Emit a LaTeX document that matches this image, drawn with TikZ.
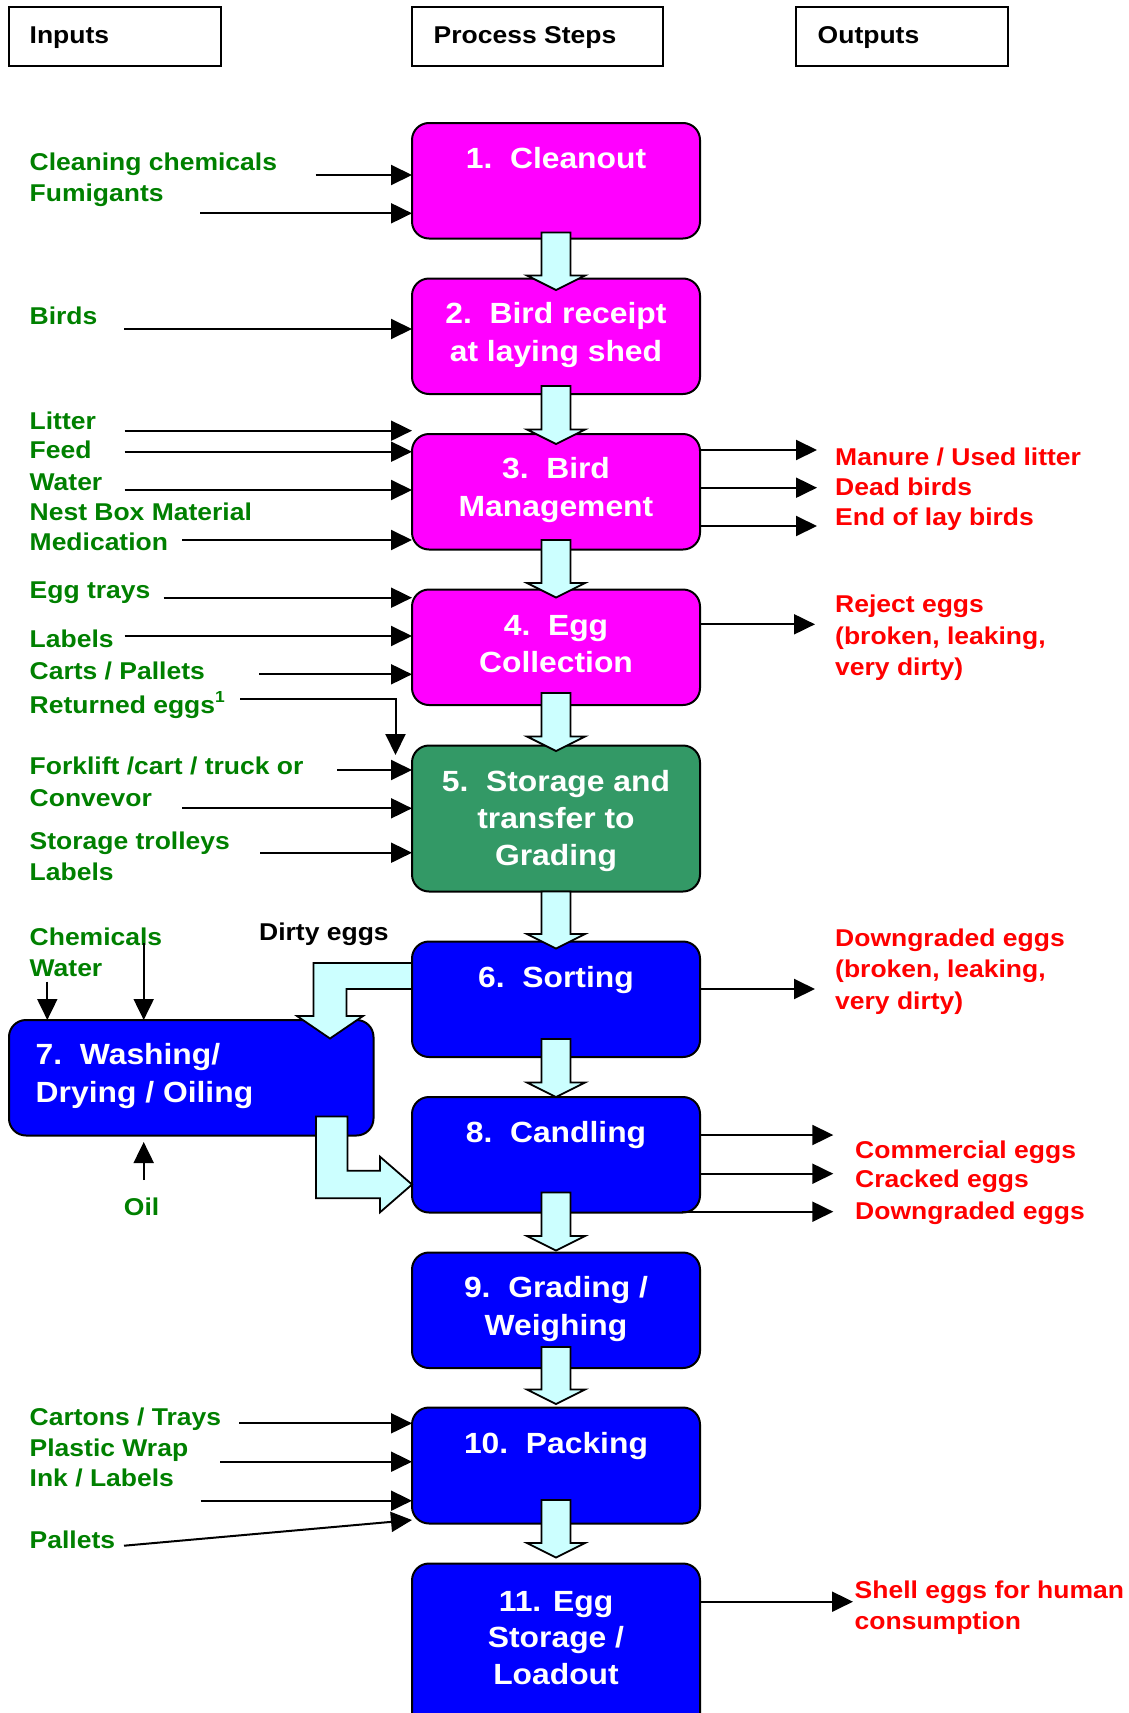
\documentclass[tikz,border=0pt]{standalone}
\usepackage{fontspec}
\setmainfont{Liberation Sans}[FakeStretch=1.09]
\usetikzlibrary{arrows.meta,calc}

\definecolor{stepmag}{HTML}{FF00FF}
\definecolor{stepgreen}{HTML}{339966}
\definecolor{stepblue}{HTML}{0000FF}
\definecolor{flowcyan}{HTML}{CCFFFF}
\definecolor{ingreen}{HTML}{008000}
\definecolor{outred}{HTML}{FF0000}

% thin input arrow: name of free end, free end, target step
\newcommand\feedin[3]{\draw[feed] (#2) coordinate (#1) -- (#1 -| #3.west);}
% thin output arrow: name of free end, free end, source step
\newcommand\feedout[3]{\coordinate (#1) at (#2); \draw[feed] (#1 -| #3.east) -- (#1);}
% vertical block arrow between two steps: shaft top, tip
\newcommand\flowdown[2]{\draw[flow] let \p1=(#1), \p2=(#2) in
  (\x1-14.5pt,\y1) -- (\x1+14.5pt,\y1) -- (\x1+14.5pt,\y2+14.5pt) -- (\x1+29pt,\y2+14.5pt)
  -- (\x1,\y2) -- (\x1-29pt,\y2+14.5pt) -- (\x1-14.5pt,\y2+14.5pt) -- cycle;}

\begin{document}
\begin{tikzpicture}[x=1pt,y=1pt,
  hdrbox/.style={draw=black, line width=2pt, fill=white, inner sep=0pt, outer sep=0pt, anchor=north west},
  stepbox/.style={draw=black, line width=2pt, rounded corners=17pt, inner sep=0pt, outer sep=0pt,
                  anchor=north west, minimum width=288pt},
  flow/.style={draw=black, line width=1.8pt, fill=flowcyan, line join=miter},
  feed/.style={draw=black, line width=2pt, -{Triangle[length=21pt,width=20pt]}},
  lbl/.style={font=\fontsize{24.3}{30}\selectfont\bfseries, inner sep=0pt, anchor=base west},
  inlbl/.style={lbl, text=ingreen},
  outlbl/.style={lbl, text=outred},
  steptxt/.style={font=\fontsize{29.2}{37}\selectfont\bfseries, text=white, inner sep=0pt, anchor=base},
]
\path[use as bounding box] (0,0) rectangle (1129,-1713);
\clip (0,0) rectangle (1129,-1713);

% column headings
\node[hdrbox, minimum width=212pt, minimum height=58.7pt] (hin) at (8.6,-7.3) {};
\node[hdrbox, minimum width=251pt, minimum height=58.7pt] (hproc) at (412,-7.3) {};
\node[hdrbox, minimum width=212pt, minimum height=58.7pt] (hout) at (796,-7.3) {};
\node[lbl] (hin-t) at (29.5,-43.3) {Inputs};
\node[lbl] (hproc-t) at (433.5,-43.3) {Process Steps};
\node[lbl] (hout-t) at (817.5,-43.3) {Outputs};

% process steps
\node[stepbox, fill=stepmag, minimum height=115.5pt] (s1) at (412,-123) {};
\node[stepbox, fill=stepmag, minimum height=115.5pt] (s2) at (412,-278.5) {};
\node[stepbox, fill=stepmag, minimum height=115.5pt] (s3) at (412,-434) {};
\node[stepbox, fill=stepmag, minimum height=115.5pt] (s4) at (412,-589.5) {};
\node[stepbox, fill=stepgreen, minimum height=146pt] (s5) at (412,-745.5) {};
\node[stepbox, fill=stepblue, minimum height=115.5pt] (s6) at (412,-941.5) {};
\node[stepbox, fill=stepblue, minimum width=364.5pt, minimum height=115.5pt] (s7) at (9,-1020) {};
\node[stepbox, fill=stepblue, minimum height=115.5pt] (s8) at (412,-1097) {};
\node[stepbox, fill=stepblue, minimum height=115.5pt] (s9) at (412,-1252.5) {};
\node[stepbox, fill=stepblue, minimum height=116pt] (s10) at (412,-1407.5) {};
\node[stepbox, fill=stepblue, minimum height=170pt] (s11) at (412,-1563.5) {};

% flow between steps
\flowdown{$(s1.south)+(0,6)$}{$(s2.north)+(0,-11.5)$}
\flowdown{$(s2.south)+(0,8)$}{$(s3.north)+(0,-10)$}
\flowdown{$(s3.south)+(0,9.5)$}{$(s4.north)+(0,-8)$}
\flowdown{$(s4.south)+(0,12)$}{$(s5.north)+(0,-5.5)$}
\flowdown{$(s5.south)+(0,0)$}{$(s6.north)+(0,-7)$}
\flowdown{$(s6.south)+(0,18)$}{$(s8.north)+(0,0)$}
\flowdown{$(s8.south)+(0,20)$}{$(s9.north)+(0,2)$}
\flowdown{$(s9.south)+(0,21)$}{$(s10.north)+(0,3.5)$}
\flowdown{$(s10.south)+(0,23.5)$}{$(s11.north)+(0,6)$}

% dirty eggs to washing, washed eggs to candling
\draw[flow] ($(s6.north west)+(0,-21.5)$) -- (313.5,-963) -- (313.5,-1016) -- (297,-1016)
  -- (330,-1038.5) -- (363,-1016) -- (346.5,-1016) -- (346.5,-989)
  -- ($(s6.north west)+(0,-47.5)$) -- cycle;
\draw[flow] (316,-1116.5) -- (347.5,-1116.5) -- (347.5,-1170.7) -- (380,-1170.7) -- (380,-1156.7)
  -- ($(s8.south west)+(0,28)$) -- (380,-1212.3) -- (380,-1198.3) -- (316,-1198.3) -- cycle;

% step captions
\node[steptxt] (t1) at (556,-168.5) {1.\ \ Cleanout};
\node[steptxt] (t2a) at (556,-323.7) {2.\ \ Bird receipt};
\node[steptxt] (t2b) at (556,-361) {at laying shed};
\node[steptxt] (t3a) at (556,-478.7) {3.\ \ Bird};
\node[steptxt] (t3b) at (556,-516.3) {Management};
\node[steptxt] (t4a) at (556,-635.3) {4.\ \ Egg};
\node[steptxt] (t4b) at (556,-672.3) {Collection};
\node[steptxt] (t5a) at (556,-791) {5.\ \ Storage and};
\node[steptxt] (t5b) at (556,-828.2) {transfer to};
\node[steptxt] (t5c) at (556,-865) {Grading};
\node[steptxt] (t6) at (556,-987) {6.\ \ Sorting};
\node[steptxt, anchor=base west] (t7a) at (35.5,-1064.7) {7.\ \ Washing/};
\node[steptxt, anchor=base west] (t7b) at (35.5,-1102) {Drying / Oiling};
\node[steptxt] (t8) at (556,-1142.2) {8.\ \ Candling};
\node[steptxt] (t9a) at (556,-1297.8) {9.\ \ Grading /};
\node[steptxt] (t9b) at (556,-1335) {Weighing};
\node[steptxt] (t10) at (556,-1453.8) {10.\ \ Packing};
\node[steptxt] (t11a) at (556,-1611) {11. Egg};
\node[steptxt] (t11b) at (556,-1647) {Storage /};
\node[steptxt] (t11c) at (556,-1684) {Loadout};

% inputs
\node[inlbl] (l1) at (29.5,-170) {Cleaning chemicals};
\node[inlbl] (l2) at (29.5,-201.7) {Fumigants};
\node[inlbl] (l3) at (29.5,-324) {Birds};
\node[inlbl] (l4) at (29.5,-429) {Litter};
\node[inlbl] (l5) at (29.5,-458.5) {Feed};
\node[inlbl] (l6) at (29.5,-490) {Water};
\node[inlbl] (l7) at (29.5,-520) {Nest Box Material};
\node[inlbl] (l8) at (29.5,-550.5) {Medication};
\node[inlbl] (l9) at (29.5,-598.5) {Egg trays};
\node[inlbl] (l10) at (29.5,-647.5) {Labels};
\node[inlbl] (l11) at (29.5,-679.5) {Carts / Pallets};
\node[inlbl] (l12) at (29.5,-713.5) {Returned eggs\raisebox{11pt}{\fontsize{16}{16}\selectfont 1}};
\node[inlbl] (l13) at (29.5,-774.7) {Forklift /cart / truck or};
\node[inlbl] (l14) at (29.5,-806) {Convevor};
\node[inlbl] (l15) at (29.5,-849) {Storage trolleys};
\node[inlbl] (l16) at (29.5,-880) {Labels};
\node[inlbl] (l17) at (29.5,-945) {Chemicals};
\node[inlbl] (l18) at (29.5,-976.7) {Water};
\node[inlbl, anchor=base] (l19) at (141.6,-1215) {Oil};
\node[lbl] (l20) at (259,-940) {Dirty eggs};
\node[inlbl] (l21) at (29.5,-1425) {Cartons / Trays};
\node[inlbl] (l22) at (29.5,-1456.5) {Plastic Wrap};
\node[inlbl] (l23) at (29.5,-1486.3) {Ink / Labels};
\node[inlbl] (l24) at (29.5,-1548) {Pallets};

\feedin{iA}{315.7,-175}{s1}
\feedin{iB}{200.3,-213.3}{s1}
\feedin{iC}{124,-329}{s2}
\feedin{iD}{124.5,-430.7}{s3}
\feedin{iE}{124.5,-451.7}{s3}
\feedin{iF}{124.5,-490}{s3}
\feedin{iG}{182.3,-540}{s3}
\feedin{iH}{163.5,-597.7}{s4}
\feedin{iI}{124.5,-636}{s4}
\feedin{iJ}{259,-674.3}{s4}
\draw[feed] (240,-699.3) -- (395.5,-699.3) -- (395.5,-755) coordinate (iK);
\feedin{iL}{337,-770}{s5}
\feedin{iM}{182.3,-808.3}{s5}
\feedin{iN}{260,-852.7}{s5}
\draw[feed] (47.3,-981.7) coordinate (wA) -- (wA |- s7.north);
\draw[feed] (143.7,-943.3) coordinate (wB) -- (wB |- s7.north);
\draw[feed] (143.7,-1180) coordinate (wC) -- ($(wC |- s7.south)+(0,-6.5)$);
\feedin{iO}{239,-1423.3}{s10}
\feedin{iP}{220,-1461.7}{s10}
\feedin{iQ}{200.7,-1500.7}{s10}
\draw[feed] (124,-1545.7) coordinate (iR) -- ($(s10.south west)+(0,3.5)$);

% outputs
\node[outlbl] (r1) at (835,-465.4) {Manure / Used litter};
\node[outlbl] (r2) at (835,-495.2) {Dead birds};
\node[outlbl] (r3) at (835,-525.9) {End of lay birds};
\node[outlbl] (r4) at (835,-612) {Reject eggs};
\node[outlbl] (r5) at (835,-644) {(broken, leaking,};
\node[outlbl] (r6) at (835,-675) {very dirty)};
\node[outlbl] (r7) at (835,-946.4) {Downgraded eggs};
\node[outlbl] (r8) at (835,-977.5) {(broken, leaking,};
\node[outlbl] (r9) at (835,-1009) {very dirty)};
\node[outlbl] (r10) at (855,-1158) {Commercial eggs};
\node[outlbl] (r11) at (855,-1187.8) {Cracked eggs};
\node[outlbl] (r12) at (855,-1219.5) {Downgraded eggs};
\node[outlbl] (r13) at (854.5,-1598) {Shell eggs for human};
\node[outlbl] (r14) at (854.5,-1629) {consumption};

\feedout{oA}{817,-450}{s3}
\feedout{oB}{817,-487.7}{s3}
\feedout{oC}{817,-526}{s3}
\feedout{oD}{815,-624.3}{s4}
\feedout{oE}{815,-989}{s6}
\feedout{oF}{833.3,-1135}{s8}
\feedout{oG}{833.3,-1173.7}{s8}
\coordinate (oH) at (833.3,-1211.7);
\draw[feed] ($(s8.south east)+(-18.3,0.8)$) -- (oH);
\feedout{oI}{853,-1601.7}{s11}
\end{tikzpicture}
\end{document}
